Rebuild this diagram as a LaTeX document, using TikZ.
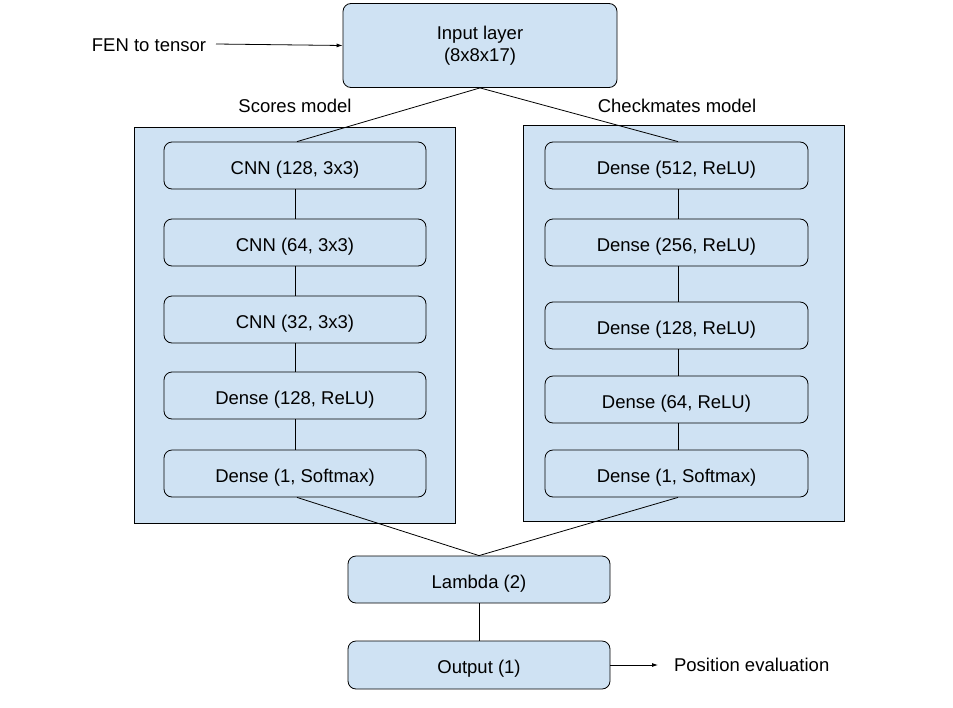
\documentclass[tikz,border=0pt]{standalone}
\usepackage{fontspec}
\setmainfont{Liberation Sans}
\usetikzlibrary{arrows.meta}
\definecolor{boxblue}{HTML}{CFE2F3}
\begin{document}
\begin{tikzpicture}[x=1pt,y=-1pt,
  every node/.style={font=\fontsize{18.5}{21.6}\selectfont},
  layerbox/.style={draw=black, fill=boxblue, rounded corners=8pt, line width=0.8pt, inner sep=0pt},
  onebox/.style={layerbox, text height=21pt, text depth=4pt},
  groupbox/.style={draw=black, fill=boxblue, line width=0.8pt},
  conn/.style={draw=black, line width=0.8pt},
  arr/.style={conn, -{Latex[length=6pt,width=4pt]}}
]
\useasboundingbox (0,0) rectangle (953,707);
% groups
\draw[groupbox] (134,127) rectangle (455,523);
\draw[groupbox] (523,125) rectangle (844,521);
\node (slabel) at (295,106) {Scores model};
\node (clabel) at (677,106) {Checkmates model};
% input
\node[layerbox, minimum width=274pt, minimum height=84pt, align=center] (input) at (480,45.5) {Input layer\\(8x8x17)};
\node (fen) at (149,45) {FEN to tensor};
\coordinate (fenend) at (216,44);
\draw[arr] (fenend) -- (input.west);
% left column
\foreach \n/\y/\t in {l1/165.5/{CNN (128, 3x3)}, l2/242.5/{CNN (64, 3x3)}, l3/319.5/{CNN (32, 3x3)}, l4/395.5/{Dense (128, ReLU)}, l5/473.5/{Dense (1, Softmax)}}
  \node[onebox, minimum width=262pt, minimum height=47pt] (\n) at (295,\y) {\t};
% right column
\foreach \n/\y/\t in {r1/165.5/{Dense (512, ReLU)}, r2/242.5/{Dense (256, ReLU)}, r3/325.5/{Dense (128, ReLU)}, r4/399.5/{Dense (64, ReLU)}, r5/473.5/{Dense (1, Softmax)}}
  \node[onebox, minimum width=263pt, minimum height=47pt] (\n) at (676.5,\y) {\t};
\draw[conn] (l1) -- (l2) (l2) -- (l3) (l3) -- (l4) (l4) -- (l5);
\draw[conn] ([xshift=1.5pt]r1.south) -- ([xshift=1.5pt]r2.north) ([xshift=1.5pt]r2.south) -- ([xshift=1.5pt]r3.north) ([xshift=1.5pt]r3.south) -- ([xshift=1.5pt]r4.north) ([xshift=1.5pt]r4.south) -- ([xshift=1.5pt]r5.north);
\draw[conn] (input.south) -- ([xshift=2pt]l1.north);
\draw[conn] (input.south) -- ([xshift=1.5pt]r1.north);
% bottom
\node[onebox, minimum width=262pt, minimum height=47pt] (lambda) at (479,579.5) {Lambda (2)};
\node[onebox, minimum width=262pt, minimum height=48pt] (output) at (479,665) {Output (1)};
\draw[conn] ([xshift=2pt]l5.south) -- (lambda.north);
\draw[conn] ([xshift=1.5pt]r5.south) -- (lambda.north);
\draw[conn] (lambda) -- (output);
\coordinate (posend) at (658,665);
\draw[arr] (output.east) -- (posend);
\node[anchor=west] (pos) at (670.5,665) {Position evaluation};
\end{tikzpicture}
\end{document}
